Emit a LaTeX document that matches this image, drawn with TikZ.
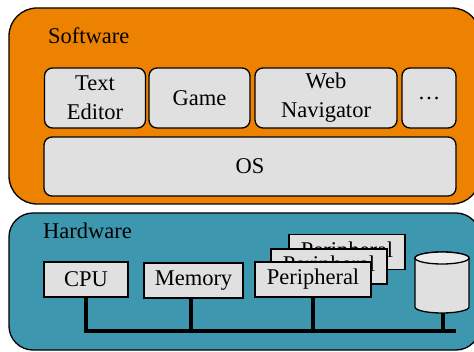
\documentclass[tikz,border=0pt]{standalone}
\usepackage{fontspec}
\setmainfont{Liberation Serif}
\definecolor{swor}{RGB}{237,130,0}
\definecolor{hwteal}{RGB}{61,151,174}
\definecolor{boxgray}{RGB}{224,224,224}
\begin{document}
\begin{tikzpicture}[x=1pt,y=1pt,
  every node/.style={font=\fontsize{22.5}{29}\selectfont, inner sep=0pt},
  layer/.style={draw=black, line width=1.3pt},
  appbox/.style={draw=black, fill=boxgray, line width=1.3pt, rounded corners=8pt, minimum height=60pt, align=center},
  hwbox/.style={draw=black, fill=boxgray, line width=1.3pt, minimum height=35pt},
  bus/.style={line width=4pt}]
\useasboundingbox (0,0) rectangle (474,351);
\begin{scope}
\clip (0,0) rectangle (474,351);
% outer layers
\draw[layer, fill=swor, rounded corners=28pt] (9,147) rectangle (480,343);
\draw[layer, fill=hwteal, rounded corners=24pt] (9,1) rectangle (480,138);
\end{scope}
\node[anchor=base west] (swlabel) at (48,307) {Software};
\node[anchor=base west] (hwlabel) at (43,112) {Hardware};
% software
\node[appbox, minimum width=101pt] (te) at (95,253) {Text\\Editor};
\node[appbox, minimum width=101pt] (game) at (199.5,253) {Game};
\node[appbox, minimum width=142pt] (web) at (326,253) {Web\\Navigator};
\node[appbox, minimum width=54pt] (dots) at (429,253) {\dots};
\node[appbox, minimum width=412pt, minimum height=59pt] (os) at (250,184.5) {OS};
% hardware
\node[hwbox, minimum width=84pt] (cpu) at (86,71.5) {CPU};
\node[hwbox, minimum width=99pt] (mem) at (193.5,70.5) {Memory};
\node[hwbox, minimum width=116pt] (p3) at (347,99) {Peripheral};
\node[hwbox, minimum width=116pt] (p2) at (329,84.5) {Peripheral};
\node[hwbox, minimum width=116pt] (p1) at (313,71.5) {Peripheral};
% disk
\filldraw[fill=boxgray, line width=1.3pt] (415,93) -- (415,44)
  arc[start angle=180, end angle=360, x radius=27, y radius=6] -- (469,93)
  arc[start angle=0, end angle=180, x radius=27, y radius=6] -- cycle;
\draw[line width=1.3pt, fill=boxgray!60!white] (442,93) ellipse[x radius=27, y radius=6];
\coordinate (disk) at (443,38);
% bus
\coordinate (busL) at (84,20);
\coordinate (busR) at (456,20);
\draw[bus] (busL) -- (busR);
\draw[bus] (cpu.south) -- (cpu.south |- busL);
\draw[bus] ([xshift=-2.5pt]mem.south) -- ([xshift=-2.5pt]mem.south |- busL);
\draw[bus] (p1.south) -- (p1.south |- busL);
\draw[bus] (disk) -- (disk |- busL);
\end{tikzpicture}
\end{document}
